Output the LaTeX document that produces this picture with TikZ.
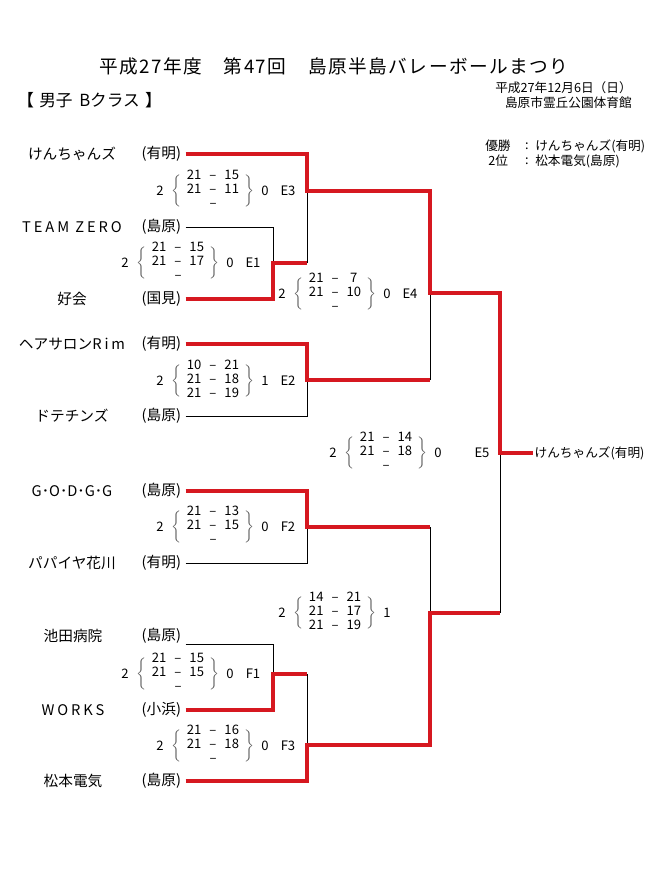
\documentclass[tikz,border=0pt]{standalone}
\usepackage{fontspec}
\setmainfont{Noto Sans CJK JP}
\newfontfamily\titlefont[LetterSpace=8]{Noto Sans CJK JP}
\newfontfamily\widefont[LetterSpace=20]{Noto Sans CJK JP}
\usetikzlibrary{positioning}
\definecolor{winred}{RGB}{214,24,32}

\tikzset{
  win/.style={draw=winred,line width=3pt},
  lose/.style={draw=black,line width=0.7pt},
  team/.style={font=\fontsize{11}{13}\selectfont},
  area/.style={anchor=west,font=\fontsize{11}{13}\selectfont},
  score/.style={font=\fontsize{9.8}{10.5}\selectfont},
  brace/.style={score,inner sep=0pt,text=black!65},
  note/.style={font=\fontsize{9.5}{11}\selectfont},
}

% one score block: name, position, left, rows, right, label
\newcommand{\scoreblock}[6]{%
  \begin{scope}[shift={#2}]
    \node[score] (#1l) at (0,0) {#3};
    \node[brace] (#1b) at (17,0) {$\left\{\vrule height 13pt depth 10pt width 0pt\right.$};
    \node[score,inner sep=0pt] (#1s) at (53,0) {\begin{tabular}{@{}c@{\hspace{6pt}}c@{\hspace{6pt}}c@{}}#4\end{tabular}};
    \node[brace] (#1k) at (89,0) {$\left.\vrule height 13pt depth 10pt width 0pt\right\}$};
    \node[score] (#1r) at (105,0) {#5};
    \node[score] (#1n) at (128,0) {#6};
  \end{scope}}

\begin{document}
\begin{tikzpicture}[x=0.75pt,y=-0.75pt]
\useasboundingbox[fill=white] (0,0) rectangle (663,877);

% headings
\node[font=\titlefont\fontsize{14}{16}\selectfont] (title) at (334,66) {平成27年度　第47回　島原半島バレーボールまつり};
\node[anchor=west,inner sep=0pt,font=\fontsize{12.5}{14}\selectfont] (class) at (17,100) {【\hspace{4pt}男子\hspace{5pt}Bクラス\hspace{4pt}】};
\node[anchor=east,inner sep=0pt,note] (date) at (632,88) {平成27年12月6日（日）};
\node[anchor=east,inner sep=0pt,note] (hall) at (632,103) {島原市霊丘公園体育館};
\node[anchor=west,inner sep=0pt,note] (w1) at (485,146) {優勝};
\node[inner sep=0pt,note] (w1c) at (527,146) {:};
\node[anchor=west,inner sep=0pt,note] (w1t) at (535,146) {けんちゃんズ(有明)};
\node[anchor=west,inner sep=0pt,note] (w2) at (488,161) {2位};
\node[inner sep=0pt,note] (w2c) at (527,161) {:};
\node[anchor=west,inner sep=0pt,note] (w2t) at (535,161) {松本電気(島原)};

% teams
\node[team] (t1) at (72,154) {けんちゃんズ};   \node[area] (r1) at (137,154) {(有明)};
\node[team] (t2) at (72,227) {\widefont TEAM ZERO}; \node[area] (r2) at (137,227) {(島原)};
\node[team] (t3) at (72,299) {好会};           \node[area] (r3) at (137,299) {(国見)};
\node[team] (t4) at (72,344) {ヘアサロン{\widefont Rim}}; \node[area] (r4) at (137,344) {(有明)};
\node[team] (t5) at (72,416) {ドテチンズ};     \node[area] (r5) at (137,416) {(島原)};
\node[team] (t6) at (72,491) {G･O･D･G･G};     \node[area] (r6) at (137,491) {(島原)};
\node[team] (t7) at (72,563) {パパイヤ花川};   \node[area] (r7) at (137,563) {(有明)};
\node[team] (t8) at (73,636) {池田病院};       \node[area] (r8) at (137,636) {(島原)};
\node[team] (t9) at (73,710) {\widefont WORKS}; \node[area] (r9) at (137,710) {(小浜)};
\node[team] (t10) at (73,781) {松本電気};      \node[area] (r10) at (137,781) {(島原)};

% junctions
\coordinate (e1) at (273,263);
\coordinate (e3) at (307,191);
\coordinate (e2) at (307,380);
\coordinate (e4) at (430,293);
\coordinate (e5) at (500,453);
\coordinate (f2) at (307,527);
\coordinate (f1) at (273,674);
\coordinate (f3) at (307,745);
\coordinate (f4) at (430,613);
\node[anchor=west,inner sep=1pt,note] (champ) at (533,453) {けんちゃんズ(有明)};

% scores
\scoreblock{s1}{(125,263)}{2}{21 & – & 15 \\ 21 & – & 17 \\ & – &}{0}{E1}
\scoreblock{s2}{(160,381)}{2}{10 & – & 21 \\ 21 & – & 18 \\ 21 & – & 19}{1}{E2}
\scoreblock{s3}{(160,191)}{2}{21 & – & 15 \\ 21 & – & 11 \\ & – &}{0}{E3}
\scoreblock{s4}{(282,294)}{2}{21 & – & 7 \\ 21 & – & 10 \\ & – &}{0}{E4}
\scoreblock{s5}{(333,453)}{2}{21 & – & 14 \\ 21 & – & 18 \\ & – &}{0}{}
\node[score] (s5n) at (482,453) {E5};
\scoreblock{f1s}{(125,674)}{2}{21 & – & 15 \\ 21 & – & 15 \\ & – &}{0}{F1}
\scoreblock{f2s}{(160,527)}{2}{21 & – & 13 \\ 21 & – & 15 \\ & – &}{0}{F2}
\scoreblock{f3s}{(160,746)}{2}{21 & – & 16 \\ 21 & – & 18 \\ & – &}{0}{F3}
\scoreblock{f4s}{(282,613)}{2}{14 & – & 21 \\ 21 & – & 17 \\ 21 & – & 19}{1}{}

% losing sides
\draw[lose] (r2.east) -| (e1);
\draw[lose] (r5.east) -| (e2);
\draw[lose] (r7.east) -| (f2);
\draw[lose] (r8.east |- 0,644) -| (f1);
\draw[lose] (e1 -| e3) -- (e3);
\draw[lose] (e2 -| e4) -- (e4);
\draw[lose] (f2 -| f4) -- (f4);
\draw[lose] (f1 -| f3) -- (f3);
\draw[lose] (f4 -| e5) -- (e5);

% winning sides
\draw[win] (r1.east) -| (e3) -- (e3 -| e4) -- (e4) -- (e4 -| e5) -- (e5) -- (champ.west);
\draw[win] (r3.east) -| (e1) -- (e1 -| e3);
\draw[win] (r4.east) -| (e2) -- (e2 -| e4);
\draw[win] (r6.east) -| (f2) -- (f2 -| f4);
\draw[win] (r9.east) -| (f1) -- (f1 -| f3);
\draw[win] (r10.east) -| (f3) -- (f3 -| f4) -- (f4) -- (f4 -| e5);
\end{tikzpicture}
\end{document}
